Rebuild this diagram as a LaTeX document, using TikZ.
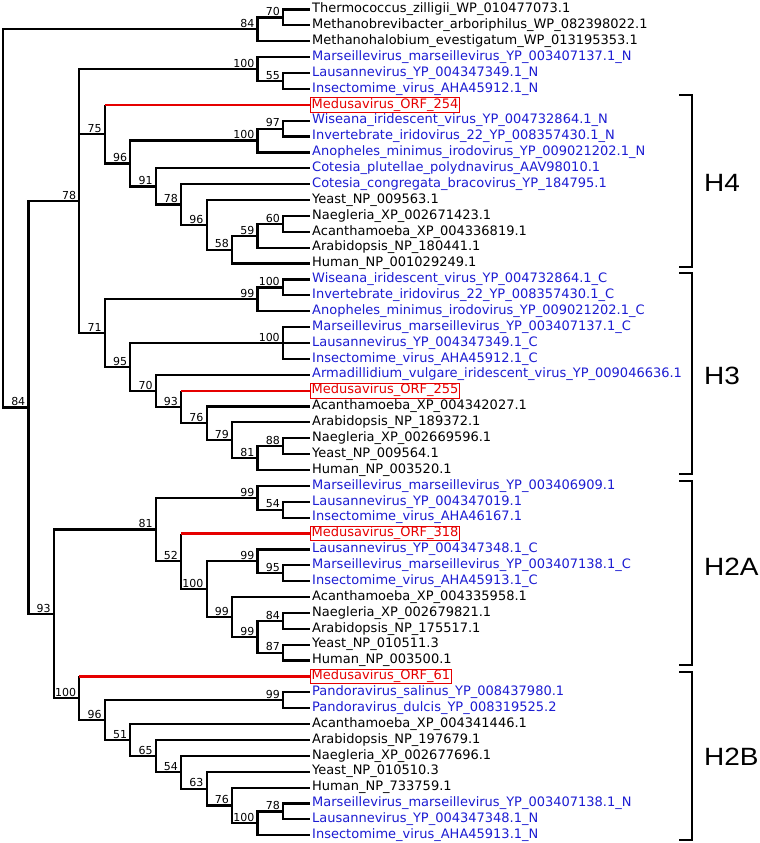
\documentclass[tikz,border=0pt]{standalone}
\usepackage{fontspec}
\setmainfont{DejaVu Sans}
\newfontfamily\lfont{DejaVu Sans}
\newfontfamily\hfont[FakeStretch=1.12]{Liberation Sans}
\definecolor{vblue}{RGB}{28,28,210}
\definecolor{mred}{RGB}{230,0,0}
\tikzset{
  br/.style={line width=2.2pt, black, line join=miter},
  redbr/.style={line width=2.2pt, mred},
  leaflab/.style={anchor=west, inner sep=0pt, xshift=2pt, font=\lfont\fontsize{13}{15}\selectfont, text height=9.5pt, text depth=3pt},
  vir/.style={leaflab, text=vblue},
  med/.style={anchor=west, draw=mred, line width=1pt, text=mred, inner sep=1.2pt, font=\lfont\fontsize{13}{15}\selectfont, text height=9.5pt, text depth=3pt},
  bs/.style={anchor=south east, inner sep=0pt, xshift=-3pt, yshift=1.4pt, font=\fontsize{11}{12}\selectfont},
  brk/.style={line width=2.2pt, line join=miter},
  hlab/.style={anchor=west, inner sep=0pt, font=\hfont\fontsize{25}{28}\selectfont}
}
\newcommand{\lf}[3]{\coordinate (l#1) at (12.063,#1); \node[#2] (t#1) at (l#1) {#3};}
\newcommand{\inn}[4]{\coordinate (#1) at (#2,#3); \node[bs] (b#1) at (#1) {#4};}
\newcommand{\ed}[2]{\draw[br] (#1) |- (#2);}
\newcommand{\red}[2]{\draw[br] (#1) -- (#1 |- #2); \draw[redbr] (#1 |- #2) -- (#2);}
\begin{document}
\begin{tikzpicture}[x=1pt,y=-1pt]
\useasboundingbox (0,0) rectangle (760,843);
\begin{scope}[shift={(3,-6.38)}, x=25.45pt, y=-15.88pt]
% leaves
\lf{1}{leaflab}{Thermococcus\_zilligii\_WP\_010477073.1}
\lf{2}{leaflab}{Methanobrevibacter\_arboriphilus\_WP\_082398022.1}
\lf{3}{leaflab}{Methanohalobium\_evestigatum\_WP\_013195353.1}
\lf{4}{vir}{Marseillevirus\_marseillevirus\_YP\_003407137.1\_N}
\lf{5}{vir}{Lausannevirus\_YP\_004347349.1\_N}
\lf{6}{vir}{Insectomime\_virus\_AHA45912.1\_N}
\lf{7}{med}{Medusavirus\_ORF\_254}
\lf{8}{vir}{Wiseana\_iridescent\_virus\_YP\_004732864.1\_N}
\lf{9}{vir}{Invertebrate\_iridovirus\_22\_YP\_008357430.1\_N}
\lf{10}{vir}{Anopheles\_minimus\_irodovirus\_YP\_009021202.1\_N}
\lf{11}{vir}{Cotesia\_plutellae\_polydnavirus\_AAV98010.1}
\lf{12}{vir}{Cotesia\_congregata\_bracovirus\_YP\_184795.1}
\lf{13}{leaflab}{Yeast\_NP\_009563.1}
\lf{14}{leaflab}{Naegleria\_XP\_002671423.1}
\lf{15}{leaflab}{Acanthamoeba\_XP\_004336819.1}
\lf{16}{leaflab}{Arabidopsis\_NP\_180441.1}
\lf{17}{leaflab}{Human\_NP\_001029249.1}
\lf{18}{vir}{Wiseana\_iridescent\_virus\_YP\_004732864.1\_C}
\lf{19}{vir}{Invertebrate\_iridovirus\_22\_YP\_008357430.1\_C}
\lf{20}{vir}{Anopheles\_minimus\_irodovirus\_YP\_009021202.1\_C}
\lf{21}{vir}{Marseillevirus\_marseillevirus\_YP\_003407137.1\_C}
\lf{22}{vir}{Lausannevirus\_YP\_004347349.1\_C}
\lf{23}{vir}{Insectomime\_virus\_AHA45912.1\_C}
\lf{24}{vir}{Armadillidium\_vulgare\_iridescent\_virus\_YP\_009046636.1}
\lf{25}{med}{Medusavirus\_ORF\_255}
\lf{26}{leaflab}{Acanthamoeba\_XP\_004342027.1}
\lf{27}{leaflab}{Arabidopsis\_NP\_189372.1}
\lf{28}{leaflab}{Naegleria\_XP\_002669596.1}
\lf{29}{leaflab}{Yeast\_NP\_009564.1}
\lf{30}{leaflab}{Human\_NP\_003520.1}
\lf{31}{vir}{Marseillevirus\_marseillevirus\_YP\_003406909.1}
\lf{32}{vir}{Lausannevirus\_YP\_004347019.1}
\lf{33}{vir}{Insectomime\_virus\_AHA46167.1}
\lf{34}{med}{Medusavirus\_ORF\_318}
\lf{35}{vir}{Lausannevirus\_YP\_004347348.1\_C}
\lf{36}{vir}{Marseillevirus\_marseillevirus\_YP\_003407138.1\_C}
\lf{37}{vir}{Insectomime\_virus\_AHA45913.1\_C}
\lf{38}{leaflab}{Acanthamoeba\_XP\_004335958.1}
\lf{39}{leaflab}{Naegleria\_XP\_002679821.1}
\lf{40}{leaflab}{Arabidopsis\_NP\_175517.1}
\lf{41}{leaflab}{Yeast\_NP\_010511.3}
\lf{42}{leaflab}{Human\_NP\_003500.1}
\lf{43}{med}{Medusavirus\_ORF\_61}
\lf{44}{vir}{Pandoravirus\_salinus\_YP\_008437980.1}
\lf{45}{vir}{Pandoravirus\_dulcis\_YP\_008319525.2}
\lf{46}{leaflab}{Acanthamoeba\_XP\_004341446.1}
\lf{47}{leaflab}{Arabidopsis\_NP\_197679.1}
\lf{48}{leaflab}{Naegleria\_XP\_002677696.1}
\lf{49}{leaflab}{Yeast\_NP\_010510.3}
\lf{50}{leaflab}{Human\_NP\_733759.1}
\lf{51}{vir}{Marseillevirus\_marseillevirus\_YP\_003407138.1\_N}
\lf{52}{vir}{Lausannevirus\_YP\_004347348.1\_N}
\lf{53}{vir}{Insectomime\_virus\_AHA45913.1\_N}
% internal nodes
\coordinate (root) at (0,14.156982421875);
\inn{Na70}{11}{1.5}{70}
\inn{Na84}{10}{2.25}{84}
\inn{Nb55}{11}{5.5}{55}
\inn{Nb100}{10}{4.75}{100}
\inn{Nc97}{11}{8.5}{97}
\inn{Nc100}{10}{9.25}{100}
\inn{Nd60}{11}{14.5}{60}
\inn{Nd59}{10}{15.25}{59}
\inn{Nd58}{9}{16.125}{58}
\inn{Nd96}{8}{14.5625}{96}
\inn{Nd78}{7}{13.28125}{78}
\inn{Nd91}{6}{12.140625}{91}
\inn{Nd96a}{5}{10.6953125}{96}
\inn{Ne75}{4}{8.84765625}{75}
\inn{Nf100}{11}{18.5}{100}
\inn{Nf99}{10}{19.25}{99}
\inn{Ng100}{11}{22}{100}
\inn{Nh88}{11}{28.5}{88}
\inn{Nh81}{10}{29.25}{81}
\inn{Nh79}{9}{28.125}{79}
\inn{Nh76}{8}{27.0625}{76}
\inn{Nh93}{7}{26.03125}{93}
\inn{Nh70}{6}{25.015625}{70}
\inn{Nh95}{5}{23.5078125}{95}
\inn{Ni71}{4}{21.37890625}{71}
\inn{Nj78}{3}{13.064453125}{78}
\inn{Nk54}{11}{32.5}{54}
\inn{Nk99}{10}{31.75}{99}
\inn{Nl95}{11}{36.5}{95}
\inn{Nl99}{10}{35.75}{99}
\inn{Nm84}{11}{39.5}{84}
\inn{Nm87}{11}{41.5}{87}
\inn{Nm99}{10}{40.5}{99}
\inn{Nm99b}{9}{39.25}{99}
\inn{Nn100}{8}{37.5}{100}
\inn{Nn52}{7}{35.75}{52}
\inn{Nn81}{6}{33.75}{81}
\inn{Np99}{11}{44.5}{99}
\inn{Nq78}{11}{51.5}{78}
\inn{Nq100}{10}{52.25}{100}
\inn{Nq76}{9}{51.125}{76}
\inn{Nq63}{8}{50.0625}{63}
\inn{Nq54}{7}{49.03125}{54}
\inn{Nq65}{6}{48.015625}{65}
\inn{Nq51}{5}{47.0078125}{51}
\inn{Nq96}{4}{45.75390625}{96}
\inn{Nr100}{3}{44.376953125}{100}
\inn{Ns93}{2}{39.0634765625}{93}
\inn{Nt84}{1}{26.06396484375}{84}
% edges
\ed{root}{Na84}\ed{root}{Nt84}
\ed{Na84}{Na70}\ed{Na84}{l3}
\ed{Na70}{l1}\ed{Na70}{l2}
\ed{Nt84}{Nj78}\ed{Nt84}{Ns93}
\ed{Nj78}{Nb100}\ed{Nj78}{Ne75}\ed{Nj78}{Ni71}
\ed{Nb100}{l4}\ed{Nb100}{Nb55}
\ed{Nb55}{l5}\ed{Nb55}{l6}
\red{Ne75}{l7}\ed{Ne75}{Nd96a}
\ed{Nd96a}{Nc100}\ed{Nd96a}{Nd91}
\ed{Nc100}{Nc97}\ed{Nc100}{l10}
\ed{Nc97}{l8}\ed{Nc97}{l9}
\ed{Nd91}{l11}\ed{Nd91}{Nd78}
\ed{Nd78}{l12}\ed{Nd78}{Nd96}
\ed{Nd96}{l13}\ed{Nd96}{Nd58}
\ed{Nd58}{Nd59}\ed{Nd58}{l17}
\ed{Nd59}{Nd60}\ed{Nd59}{l16}
\ed{Nd60}{l14}\ed{Nd60}{l15}
\ed{Ni71}{Nf99}\ed{Ni71}{Nh95}
\ed{Nf99}{Nf100}\ed{Nf99}{l20}
\ed{Nf100}{l18}\ed{Nf100}{l19}
\ed{Nh95}{Ng100}\ed{Nh95}{Nh70}
\ed{Ng100}{l21}\ed{Ng100}{l22}\ed{Ng100}{l23}
\ed{Nh70}{l24}\ed{Nh70}{Nh93}
\red{Nh93}{l25}\ed{Nh93}{Nh76}
\ed{Nh76}{l26}\ed{Nh76}{Nh79}
\ed{Nh79}{l27}\ed{Nh79}{Nh81}
\ed{Nh81}{Nh88}\ed{Nh81}{l30}
\ed{Nh88}{l28}\ed{Nh88}{l29}
\ed{Ns93}{Nn81}\ed{Ns93}{Nr100}
\ed{Nn81}{Nk99}\ed{Nn81}{Nn52}
\ed{Nk99}{l31}\ed{Nk99}{Nk54}
\ed{Nk54}{l32}\ed{Nk54}{l33}
\red{Nn52}{l34}\ed{Nn52}{Nn100}
\ed{Nn100}{Nl99}\ed{Nn100}{Nm99b}
\ed{Nl99}{l35}\ed{Nl99}{Nl95}
\ed{Nl95}{l36}\ed{Nl95}{l37}
\ed{Nm99b}{l38}\ed{Nm99b}{Nm99}
\ed{Nm99}{Nm84}\ed{Nm99}{Nm87}
\ed{Nm84}{l39}\ed{Nm84}{l40}
\ed{Nm87}{l41}\ed{Nm87}{l42}
\red{Nr100}{l43}\ed{Nr100}{Nq96}
\ed{Nq96}{Np99}\ed{Nq96}{Nq51}
\ed{Np99}{l44}\ed{Np99}{l45}
\ed{Nq51}{l46}\ed{Nq51}{Nq65}
\ed{Nq65}{l47}\ed{Nq65}{Nq54}
\ed{Nq54}{l48}\ed{Nq54}{Nq63}
\ed{Nq63}{l49}\ed{Nq63}{Nq76}
\ed{Nq76}{l50}\ed{Nq76}{Nq100}
\ed{Nq100}{Nq78}\ed{Nq100}{l53}
\ed{Nq78}{l51}\ed{Nq78}{l52}
\end{scope}
% clade brackets
\draw[brk] (679,95) -- (692,95) -- (692,267) -- (679,267);
\draw[brk] (679,273) -- (692,273) -- (692,474) -- (679,474);
\draw[brk] (679,481) -- (692,481) -- (692,665) -- (679,665);
\draw[brk] (679,672) -- (692,672) -- (692,840) -- (679,840);
\node[hlab] (h4) at (704,183) {H4};
\node[hlab] (h3) at (704,376) {H3};
\node[hlab] (h2a) at (704,567) {H2A};
\node[hlab] (h2b) at (704,757) {H2B};
\end{tikzpicture}
\end{document}
